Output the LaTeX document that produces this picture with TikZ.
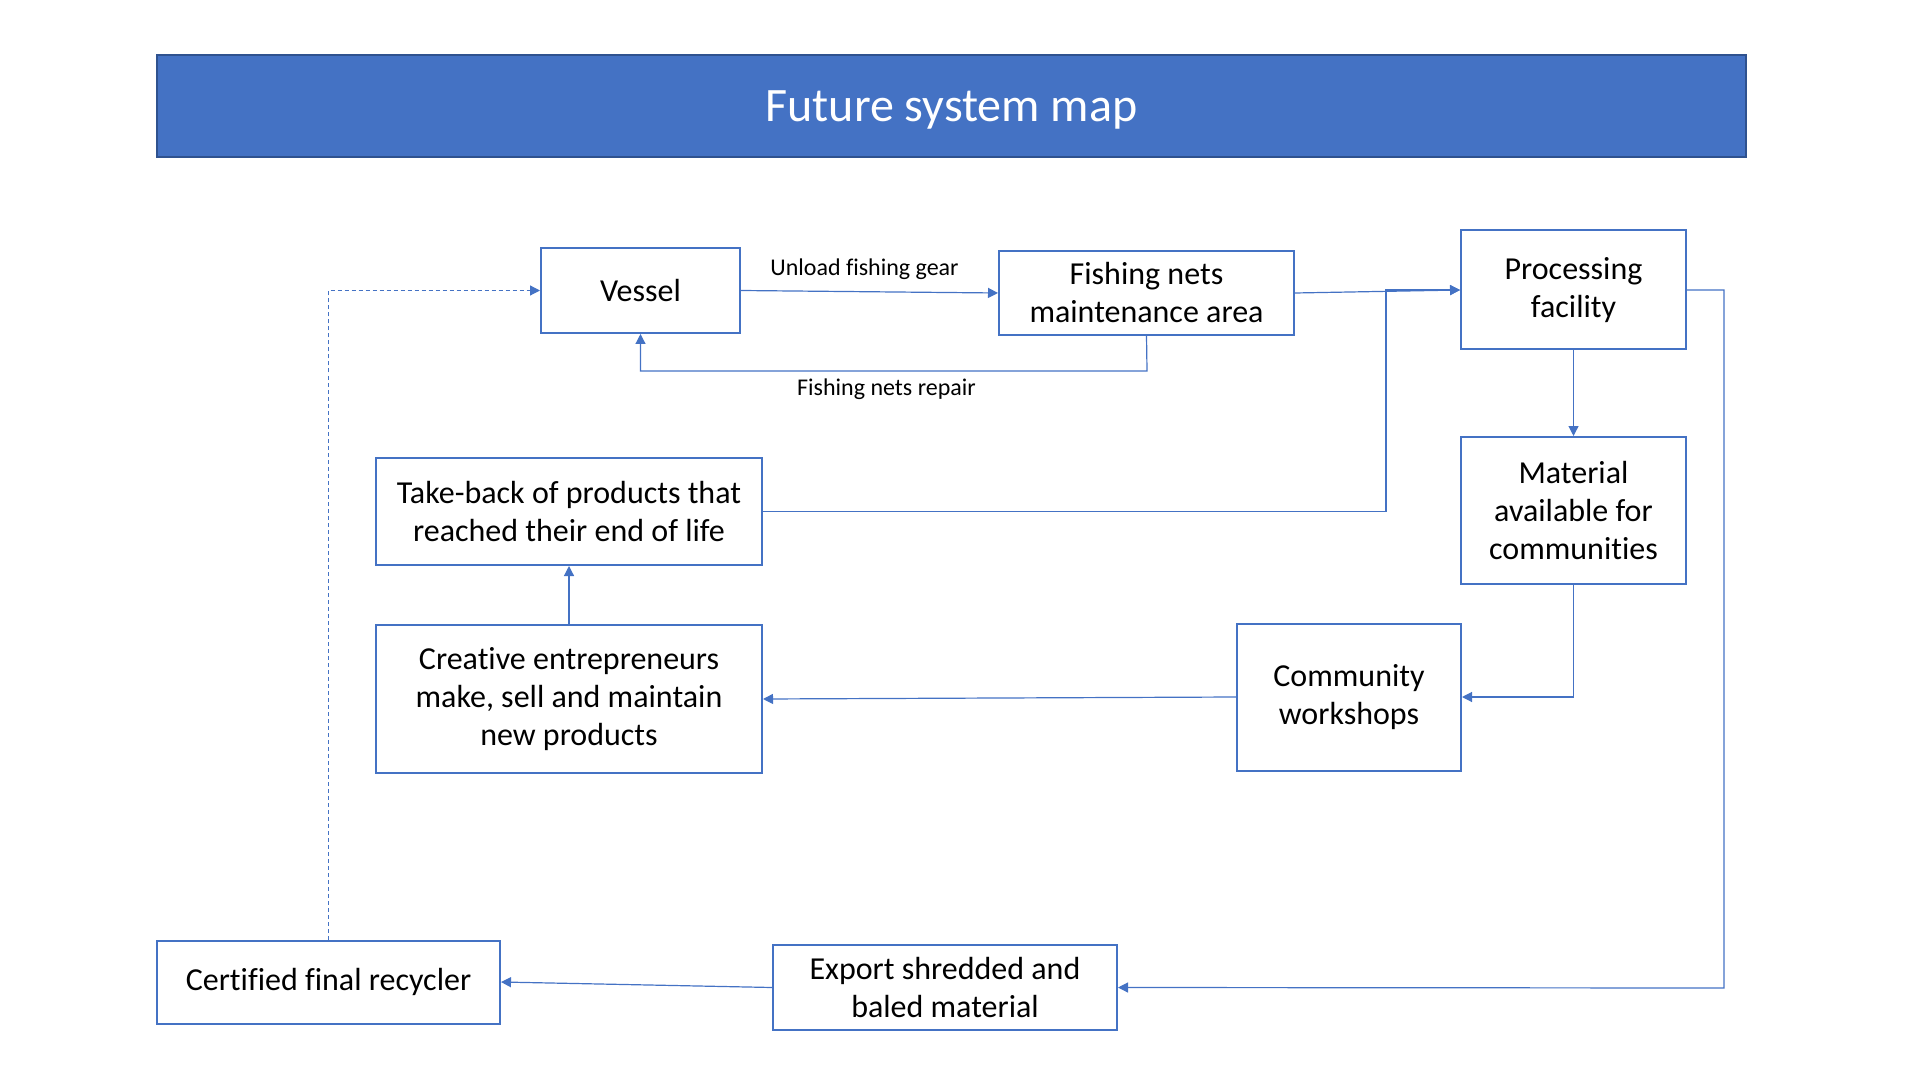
\documentclass[tikz,border=0pt]{standalone}
\usepackage{fontspec}
\setmainfont{Carlito}[Ligatures=NoCommon]
\usetikzlibrary{arrows.meta,calc}
\definecolor{accent}{HTML}{4472C4}
\definecolor{darkaccent}{HTML}{2F528F}
\begin{document}
\begin{tikzpicture}[x=0.5pt,y=-0.5pt,
  box/.style={draw=accent,line width=1pt,fill=white,align=center,inner sep=0pt,
    font=\fontsize{16}{19}\selectfont},
  conn/.style={draw=accent,line width=0.6pt,-{Triangle[length=5pt,width=5pt]}},
  lbl/.style={font=\fontsize{12}{14}\selectfont,inner sep=0pt},
  dashconn/.style={conn,dash pattern=on 2pt off 1.5pt}]
\useasboundingbox (0,0) rectangle (1920,1080);
\node[draw=darkaccent,line width=0.6pt,fill=accent,minimum width=794.5pt,minimum height=51pt] (title) at (951.5,106) {};
\node[text=white,font=\fontsize{24}{28}\selectfont,inner sep=0pt] (titletext) at (951.5,110) {Future system map};
\node[box,minimum width=99.5pt,minimum height=42.5pt] (vessel) at (640.5,290.5) {Vessel};
\node[box,minimum width=147.5pt,minimum height=42pt] (fish) at (1146.5,293) {Fishing nets\\maintenance area};
\node[box,minimum width=112.5pt,minimum height=59.5pt] (proc) at (1573.5,290) {Processing\\facility};
\node[box,minimum width=112.5pt,minimum height=73.5pt] (mat) at (1573.5,510.5) {Material\\available for\\communities};
\node[box,minimum width=112pt,minimum height=73.5pt] (comm) at (1349,697) {Community\\workshops};
\node[box,minimum width=193pt,minimum height=74pt] (creat) at (569,699) {Creative entrepreneurs\\make, sell and maintain\\new products};
\node[box,minimum width=193pt,minimum height=53.5pt] (take) at (569,511.5) {Take-back of products that\\reached their end of life};
\node[box,minimum width=171.5pt,minimum height=41.5pt] (cert) at (328.5,982) {Certified final recycler};
\node[box,minimum width=172pt,minimum height=42.5pt] (exp) at (945,987.5) {Export shredded and\\baled material};
% connectors
\draw[conn] (vessel.east) -- (fish.west);
\node[lbl] (lunload) at (864.5,269) {Unload fishing gear};
\coordinate (r1) at (1147,371);
\draw[conn] (fish.south) -- (r1) -- (r1 -| vessel.south) -- (vessel.south);
\node[lbl] (lrepair) at (886.5,389) {Fishing nets repair};
\draw[conn] (fish.east) -- (proc.west);
\coordinate (j) at (1386,290);
\draw[conn] (take.east) -- (take.east -| j) -- (j) -- (proc.west);
\draw[conn] (proc.south) -- (mat.north);
\draw[conn] (mat.south) |- (comm.east);
\draw[conn] (comm.west) -- (creat.east);
\draw[conn] (creat.north) -- (take.south);
\coordinate (rr) at (1724,988);
\draw[conn] (proc.east) -- (proc.east -| rr) -- (rr) -- (exp.east);
\draw[conn] (exp.west) -- (cert.east);
\draw[dashconn] (cert.north) |- (vessel.west);
\end{tikzpicture}
\end{document}
